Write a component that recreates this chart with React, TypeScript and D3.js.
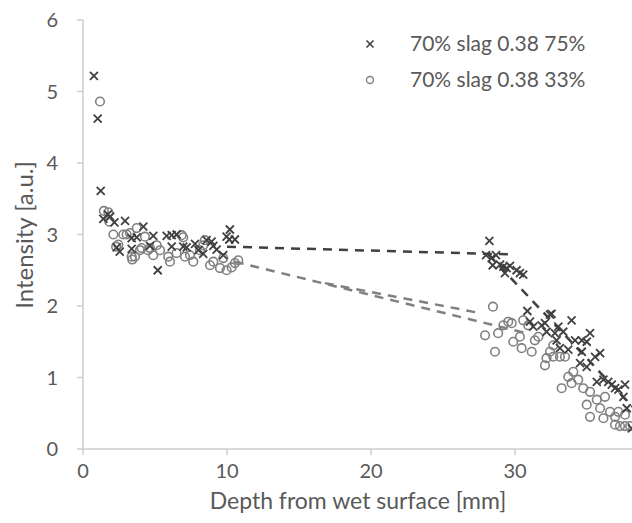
import React from "react";
import * as d3 from "d3";

const xTicks = [0, 10, 20, 30];
const yTicks = [0, 1, 2, 3, 4, 5, 6];
const seriesNames = ["70% slag 0.38 75%", "70% slag 0.38 33%"];

const crossData: [number, number][] = [
  [0.76, 5.22], [1.02, 4.62], [1.23, 3.61], [1.41, 3.22], [1.73, 3.28], [1.89, 3.25], [2.18, 3.17],
  [2.55, 2.76], [2.92, 3.19], [3.38, 2.95], [3.38, 2.8], [3.73, 2.96], [4.19, 3.11], [4.65, 2.84],
  [4.88, 2.98], [5.19, 2.5], [5.81, 2.98], [6.16, 2.99], [6.5, 3.0], [6.16, 2.83], [6.96, 2.83],
  [7.2, 2.82], [7.78, 2.87], [8.02, 2.78], [8.35, 2.73], [8.58, 2.92], [8.93, 2.9], [9.05, 2.84],
  [9.28, 2.79], [9.74, 2.71], [9.97, 2.97], [10.16, 2.93], [10.2, 3.07], [10.55, 2.93], [2.34, 2.82],
  [28.22, 2.91], [27.99, 2.71], [28.38, 2.67], [28.68, 2.71], [28.45, 2.57], [28.96, 2.58],
  [29.19, 2.55], [29.42, 2.53], [29.65, 2.56], [29.3, 2.46], [30.11, 2.5], [30.34, 2.46],
  [30.57, 2.44], [30.86, 1.93], [31.04, 1.78], [31.27, 1.71], [31.85, 1.73], [32.08, 1.76],
  [32.43, 1.88], [32.19, 1.64], [32.77, 1.62], [32.89, 1.52], [32.54, 1.89], [33.01, 1.71],
  [33.93, 1.8], [33.35, 1.64], [33.12, 1.41], [33.7, 1.39], [34.17, 1.52], [34.64, 1.52],
  [34.98, 1.5], [35.21, 1.62], [34.64, 1.36], [34.52, 1.2], [34.98, 1.15], [35.56, 1.29],
  [35.91, 1.34], [35.68, 0.94], [36.14, 0.97], [36.48, 0.94], [36.72, 0.9], [36.95, 0.85],
  [37.18, 0.83], [37.64, 0.9], [37.53, 0.73], [37.76, 0.57], [38.11, 0.29],
];

const circleData: [number, number][] = [
  [1.18, 4.86], [1.45, 3.33], [1.76, 3.31], [1.83, 3.18], [2.11, 3.0], [2.3, 2.83], [2.45, 2.86],
  [2.8, 3.0], [3.03, 3.0], [3.26, 3.02], [3.38, 2.69], [3.42, 2.65], [3.61, 2.69], [3.73, 3.09],
  [3.96, 2.78], [4.07, 2.81], [4.3, 2.97], [4.52, 2.78], [4.65, 2.81], [4.88, 2.71], [5.12, 2.85],
  [5.35, 2.78], [5.92, 2.69], [6.04, 2.62], [6.5, 2.74], [6.85, 2.99], [6.96, 2.96], [7.08, 2.69],
  [7.43, 2.71], [7.66, 2.62], [8.12, 2.78], [8.35, 2.85], [8.46, 2.92], [8.82, 2.57], [9.05, 2.62],
  [9.51, 2.53], [9.74, 2.67], [9.97, 2.5], [10.32, 2.54], [10.55, 2.6], [10.78, 2.64],
  [28.47, 1.99], [27.92, 1.59], [28.61, 1.36], [28.83, 1.62], [29.19, 1.73], [29.53, 1.78],
  [29.77, 1.76], [29.88, 1.5], [30.34, 1.57], [30.46, 1.41], [30.57, 1.8], [30.92, 1.73],
  [31.16, 1.36], [31.38, 1.52], [31.62, 1.57], [32.19, 1.27], [32.43, 1.36], [32.66, 1.45],
  [32.08, 1.17], [32.66, 1.29], [33.12, 1.29], [33.47, 1.29], [33.24, 0.85], [33.7, 1.01],
  [33.93, 0.92], [34.39, 0.97], [34.05, 1.08], [34.74, 0.85], [35.21, 0.8], [34.98, 0.62],
  [35.21, 0.45], [35.68, 0.69], [35.91, 0.57], [36.25, 0.73], [36.14, 0.43], [36.6, 0.52],
  [36.95, 0.45], [37.18, 0.52], [36.95, 0.34], [37.29, 0.32], [37.64, 0.32], [37.99, 0.32],
  [37.64, 0.48],
];

const darkTrend1: [number, number][] = [[10.0, 2.83], [29.93, 2.72]];
const darkTrend2: [number, number][] = [[28.17, 2.72], [38.5, 0.52]];
const grayTrend1: [number, number][] = [[10.54, 2.62], [30.8, 1.62]];
const grayTrend2: [number, number][] = [[16.8, 2.32], [27.6, 1.9]];

export default function App() {
  const W = 632, H = 523;
  const x = d3.scaleLinear().domain([0, 38.125]).range([83, 632]);
  const y = d3.scaleLinear().domain([0, 6]).range([449, 20]);
  const line = d3.line<[number, number]>().x(d => x(d[0])).y(d => y(d[1]));
  const txt = "#595959";
  const axisCol = "#cccccc";
  const font = "Lato, 'Open Sans', sans-serif";
  const dark = "#404040";
  const gray = "#808080";
  const cross = (cx: number, cy: number, s: number) =>
    `M${cx - s},${cy - s}L${cx + s},${cy + s}M${cx - s},${cy + s}L${cx + s},${cy - s}`;

  return (
    <svg width={W} height={H} style={{ position: "absolute", left: 0, top: 0, background: "#fff" }} fontFamily={font}>
      <line x1={x(0)} x2={x(0)} y1={y(6)} y2={y(0)} stroke={axisCol} strokeWidth={1.5} />
      <line x1={x(0)} x2={W} y1={y(0)} y2={y(0)} stroke={axisCol} strokeWidth={1.5} />
      {yTicks.map(t => (
        <g key={"y" + t}>
          <line x1={x(0) - 6} x2={x(0)} y1={y(t)} y2={y(t)} stroke={axisCol} strokeWidth={1.5} />
          <text x={58} y={y(t)} dy="0.35em" textAnchor="end" fontSize={20} fill={txt}>{t}</text>
        </g>
      ))}
      {xTicks.map(t => (
        <g key={"x" + t}>
          <line x1={x(t)} x2={x(t)} y1={y(0)} y2={y(0) + 6} stroke={axisCol} strokeWidth={1.5} />
          <text x={x(t)} y={478} textAnchor="middle" fontSize={20} fill={txt}>{t}</text>
        </g>
      ))}
      <text x={358} y={509} textAnchor="middle" fontSize={23} fill={txt}>Depth from wet surface [mm]</text>
      <text transform={`translate(33,235) rotate(-90)`} textAnchor="middle" fontSize={24} fill={txt}>Intensity [a.u.]</text>

      <path d={line(grayTrend1) || ""} fill="none" stroke={gray} strokeWidth={2.5} strokeDasharray="9,7" />
      <path d={line(grayTrend2) || ""} fill="none" stroke={gray} strokeWidth={2.5} strokeDasharray="9,7" />
      <path d={line(darkTrend1) || ""} fill="none" stroke={dark} strokeWidth={2.5} strokeDasharray="9,7" />
      <path d={line(darkTrend2) || ""} fill="none" stroke={dark} strokeWidth={2.5} strokeDasharray="9,7" />

      {circleData.map((d, i) => (
        <circle key={"c" + i} cx={x(d[0])} cy={y(d[1])} r={4.3} fill="none" stroke={gray} strokeWidth={1.6} />
      ))}
      {crossData.map((d, i) => (
        <path key={"x" + i} d={cross(x(d[0]), y(d[1]), 4)} stroke={dark} strokeWidth={1.8} fill="none" />
      ))}

      <path d={cross(370, 44, 3.5)} stroke={dark} strokeWidth={1.6} />
      <text x={410} y={44} dy="0.35em" fontSize={21} fill={txt}>{seriesNames[0]}</text>
      <circle cx={370} cy={80} r={3.5} fill="none" stroke={gray} strokeWidth={1.4} />
      <text x={410} y={80} dy="0.35em" fontSize={21} fill={txt}>{seriesNames[1]}</text>
    </svg>
  );
}
